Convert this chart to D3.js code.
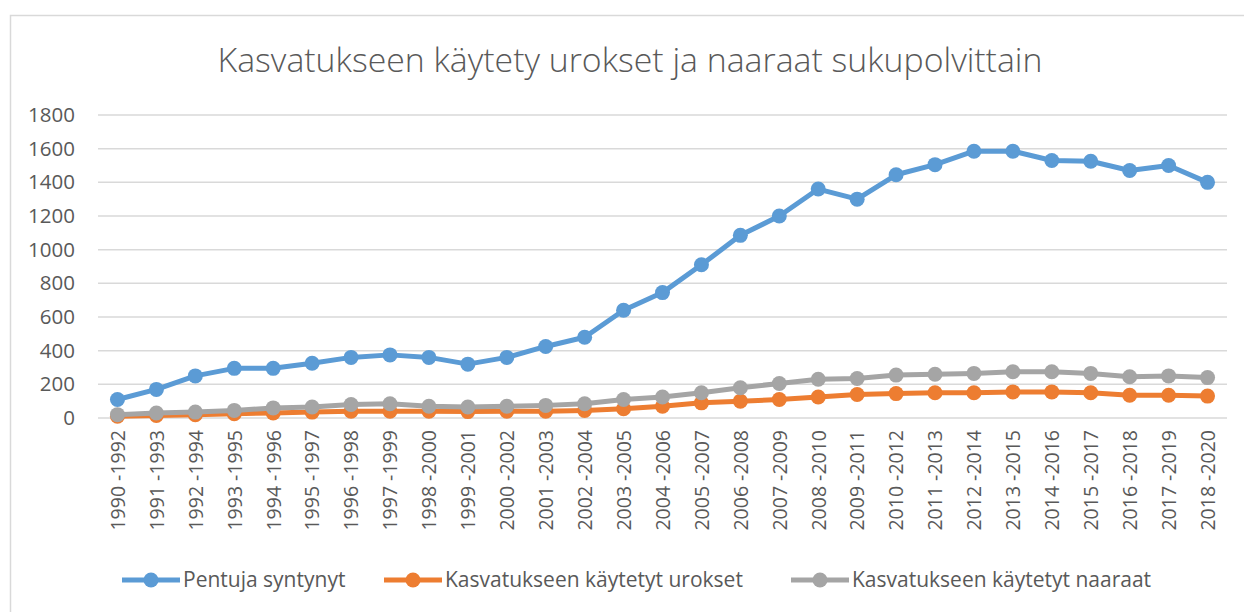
<!DOCTYPE html>
<html>
<head>
<meta charset="utf-8">
<script src="https://cdn.jsdelivr.net/npm/d3@7"></script>
<style>
  body { margin: 0; background: #fff; }
  text { font-family: "Open Sans", sans-serif; fill: #595959; }
</style>
</head>
<body>
<div id="chart"></div>
<script>
// periods (x categories)
var periods = [
  "1990 -1992", "1991 -1993", "1992 -1994", "1993 -1995", "1994 -1996",
  "1995 -1997", "1996 -1998", "1997 -1999", "1998 -2000", "1999 -2001",
  "2000 -2002", "2001 -2003", "2002 -2004", "2003 -2005", "2004 -2006",
  "2005 -2007", "2006 -2008", "2007 -2009", "2008 -2010", "2009 -2011",
  "2010 -2012", "2011 -2013", "2012 -2014", "2013 -2015", "2014 -2016",
  "2015 -2017", "2016 -2018", "2017 -2019", "2018 -2020"
];

var pentuja = [110, 170, 250, 295, 295, 325, 360, 375, 360, 320,
  360, 425, 480, 640, 745, 910, 1085, 1200, 1360, 1300,
  1445, 1505, 1585, 1585, 1530, 1525, 1470, 1500, 1400];

var urokset = [10, 15, 20, 25, 30, 35, 40, 40, 40, 38,
  40, 40, 45, 55, 70, 90, 100, 110, 125, 140,
  145, 150, 150, 155, 155, 150, 135, 135, 130];

var naaraat = [20, 30, 35, 45, 60, 65, 80, 85, 70, 65,
  70, 75, 85, 110, 125, 150, 180, 205, 230, 235,
  255, 260, 265, 275, 275, 265, 245, 250, 240];

var yTicks = [0, 200, 400, 600, 800, 1000, 1200, 1400, 1600, 1800];

var series = [
  { name: "Pentuja syntynyt", values: pentuja, color: "#5b9bd5" },
  { name: "Kasvatukseen käytetyt urokset", values: urokset, color: "#ed7d31" },
  { name: "Kasvatukseen käytetyt naaraat", values: naaraat, color: "#a5a5a5" }
];

var W = 1244, H = 612;
var plotLeft = 98, plotRight = 1227, plotTop = 115, plotBottom = 418;

var svg = d3.select("#chart").append("svg")
  .attr("width", W).attr("height", H);

// chart frame
svg.append("rect")
  .attr("x", 10.5).attr("y", 15.5)
  .attr("width", W).attr("height", H)
  .attr("fill", "#fff")
  .attr("stroke", "#d9d9d9").attr("stroke-width", 1.5);

// title
var title = svg.append("text")
  .attr("x", 630).attr("y", 72)
  .attr("text-anchor", "middle")
  .style("font-size", "28px")
  .style("font-weight", 300)
  .text("Kasvatukseen käytety urokset ja naaraat sukupolvittain");
var tw = title.node().getComputedTextLength();
title.style("font-size", (28 * 825 / tw) + "px");

var x = d3.scalePoint().domain(periods).range([plotLeft, plotRight]).padding(0.5);
var y = d3.scaleLinear().domain([0, 1800]).range([plotBottom, plotTop]);

// gridlines
svg.append("g")
  .selectAll("line")
  .data(yTicks)
  .enter().append("line")
  .attr("x1", plotLeft).attr("x2", plotRight)
  .attr("y1", function (d) { return y(d); })
  .attr("y2", function (d) { return y(d); })
  .attr("stroke", "#d9d9d9").attr("stroke-width", 1.5);

// y axis labels
var yAxis = svg.append("g")
  .attr("transform", "translate(" + plotLeft + ",0)")
  .call(d3.axisLeft(y).tickValues(yTicks).tickFormat(d3.format("d")).tickSize(0).tickPadding(23));
yAxis.select(".domain").remove();
yAxis.selectAll("text")
  .style("font-size", "20.5px")
  .style("font-family", "'Open Sans', sans-serif")
  .attr("fill", "#595959");

// x axis labels
var xAxis = svg.append("g")
  .attr("transform", "translate(0," + plotBottom + ")")
  .call(d3.axisBottom(x).tickSize(0).tickPadding(0));
xAxis.select(".domain").remove();
xAxis.selectAll("text")
  .style("font-size", "19.5px")
  .style("font-family", "'Open Sans', sans-serif")
  .attr("fill", "#595959")
  .attr("text-anchor", "end")
  .attr("transform", "rotate(-90)")
  .attr("x", -12)
  .attr("y", 0)
  .attr("dy", "0.35em");

// lines
var line = d3.line()
  .x(function (d, i) { return x(periods[i]); })
  .y(function (d) { return y(d); });

series.forEach(function (s) {
  var g = svg.append("g");
  g.append("path")
    .datum(s.values)
    .attr("d", line)
    .attr("fill", "none")
    .attr("stroke", s.color)
    .attr("stroke-width", 5)
    .attr("stroke-linejoin", "round");
  g.selectAll("circle")
    .data(s.values)
    .enter().append("circle")
    .attr("cx", function (d, i) { return x(periods[i]); })
    .attr("cy", function (d) { return y(d); })
    .attr("r", 7.5)
    .attr("fill", s.color);
});

// legend
var legendX = [122, 384, 791];
var legend = svg.append("g");
series.forEach(function (s, i) {
  var lg = legend.append("g").attr("transform", "translate(" + legendX[i] + ",580)");
  lg.append("line")
    .attr("x1", 0).attr("x2", 58)
    .attr("y1", 0).attr("y2", 0)
    .attr("stroke", s.color).attr("stroke-width", 5);
  lg.append("circle").attr("cx", 29).attr("cy", 0).attr("r", 7.5).attr("fill", s.color);
  lg.append("text")
    .attr("x", 61).attr("y", 0).attr("dy", "0.35em")
    .style("font-size", "21px")
    .text(s.name);
});
</script>
</body>
</html>
